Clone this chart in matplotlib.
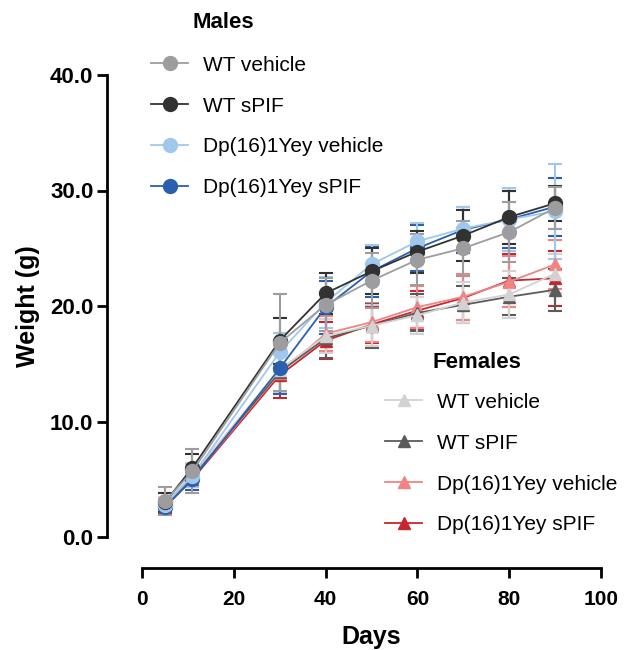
import matplotlib.pyplot as plt
from matplotlib.lines import Line2D

plt.rcParams['font.family'] = ['Liberation Sans', 'DejaVu Sans']

days = [5, 11, 30, 40, 50, 60, 70, 80, 90]

# males (mean, sd)
m_wt_veh = [3.1, 5.7, 16.8, 20.1, 22.2, 24.0, 25.0, 26.4, 28.5]
m_wt_veh_sd = [1.2, 1.9, 4.2, 2.3, 2.4, 2.2, 2.4, 2.6, 1.8]
m_wt_spif = [3.0, 6.0, 17.0, 21.1, 23.0, 24.7, 26.1, 27.7, 28.9]
m_wt_spif_sd = [0.8, 1.2, 2.0, 1.8, 2.0, 1.8, 2.2, 2.3, 1.5]
m_dp_veh = [2.8, 5.3, 16.0, 20.3, 23.6, 25.6, 26.7, 27.5, 28.2]
m_dp_veh_sd = [0.6, 1.0, 1.7, 2.2, 1.7, 1.6, 1.9, 2.7, 4.1]
m_dp_spif = [2.6, 5.0, 14.6, 19.9, 23.0, 25.0, 26.6, 27.5, 28.6]
m_dp_spif_sd = [0.5, 0.9, 2.2, 2.3, 2.2, 2.0, 2.0, 2.5, 2.5]

# females (mean, sd)
f_wt_veh = [2.9, 5.4, 14.5, 17.4, 18.3, 19.2, 20.3, 21.0, 22.8]
f_wt_veh_sd = [0.6, 1.0, 2.0, 1.5, 1.8, 1.6, 1.8, 2.0, 1.7]
f_wt_spif = [2.7, 5.2, 14.3, 17.2, 18.3, 19.4, 20.1, 20.8, 21.4]
f_wt_spif_sd = [0.5, 0.8, 1.8, 1.7, 1.9, 1.6, 1.6, 1.6, 1.8]
f_dp_veh = [2.7, 5.1, 14.2, 17.6, 18.6, 19.9, 20.8, 22.1, 23.6]
f_dp_veh_sd = [0.5, 0.7, 1.8, 1.5, 1.7, 1.8, 2.0, 2.2, 2.1]
f_dp_spif = [2.6, 5.0, 14.0, 17.0, 18.4, 19.6, 20.7, 22.2, 22.4]
f_dp_spif_sd = [0.5, 0.7, 2.0, 1.6, 1.6, 1.7, 1.9, 2.3, 2.4]

labels = ['WT vehicle', 'WT sPIF', 'Dp(16)1Yey vehicle', 'Dp(16)1Yey sPIF']
male_cols = ['#9d9d9f', '#323232', '#9fc8ec', '#2a5fb0']
female_cols = ['#d3d1d1', '#5b5b5b', '#f08383', '#c8262d']

fig = plt.figure(figsize=(6.24, 6.5), dpi=100)
ax = fig.add_axes([142/624, 1-537/650, 459/624, 462/650])

females = [(f_wt_veh, f_wt_veh_sd), (f_wt_spif, f_wt_spif_sd),
           (f_dp_veh, f_dp_veh_sd), (f_dp_spif, f_dp_spif_sd)]
males = [(m_wt_veh, m_wt_veh_sd), (m_wt_spif, m_wt_spif_sd),
         (m_dp_veh, m_dp_veh_sd), (m_dp_spif, m_dp_spif_sd)]

# females first, males drawn on top
for (y, sd), c in zip(females[::-1], female_cols[::-1]):
    ax.errorbar(days, y, yerr=sd, color=c, marker='^', markersize=9,
                lw=1.3, elinewidth=1.5, capsize=5, capthick=1.5)
for (y, sd), c in zip(males[::-1], male_cols[::-1]):
    ax.errorbar(days, y, yerr=sd, color=c, marker='o', markersize=10,
                lw=1.3, elinewidth=1.5, capsize=5, capthick=1.5)

ax.set_xlim(0, 100)
ax.set_ylim(0, 40)
ax.set_xticks([0, 20, 40, 60, 80, 100])
ax.set_yticks([0, 10, 20, 30, 40])
ax.set_yticklabels(['0.0', '10.0', '20.0', '30.0', '40.0'])
for s in ['top', 'right']:
    ax.spines[s].set_visible(False)
ax.spines['left'].set_position(('outward', 25))
ax.spines['bottom'].set_position(('outward', 22))
ax.spines['left'].set_linewidth(2)
ax.spines['bottom'].set_linewidth(2)
ax.tick_params(width=2, length=7)
ax.tick_params(axis='y', labelsize=16, pad=3)
ax.tick_params(axis='x', labelsize=15, pad=9)
for t in ax.get_xticklabels() + ax.get_yticklabels():
    t.set_fontweight('bold')
ax.set_xlabel('Days', fontsize=18, fontweight='bold', labelpad=12)
ax.set_ylabel('Weight (g)', fontsize=18, fontweight='bold', labelpad=7)

mh = [Line2D([], [], color=c, marker='o', markersize=10, lw=1.3) for c in male_cols]
fh = [Line2D([], [], color=c, marker='^', markersize=9, lw=1.3) for c in female_cols]

leg1 = fig.legend(mh, labels, loc='upper left', bbox_to_anchor=(132/624, 1-37/650),
                  frameon=False, fontsize=15, handlelength=1.8, labelspacing=1.05,
                  handletextpad=0.7)
leg2 = fig.legend(fh, labels, loc='upper left', bbox_to_anchor=(366/624, 1-374/650),
                  frameon=False, fontsize=15, handlelength=1.8, labelspacing=1.05,
                  handletextpad=0.7)
fig.text(193/624, 1-22/650, 'Males', fontsize=16, fontweight='bold', va='center')
fig.text(432/624, 1-362/650, 'Females', fontsize=16, fontweight='bold', va='center')

fig.savefig('out.png', dpi=100)
